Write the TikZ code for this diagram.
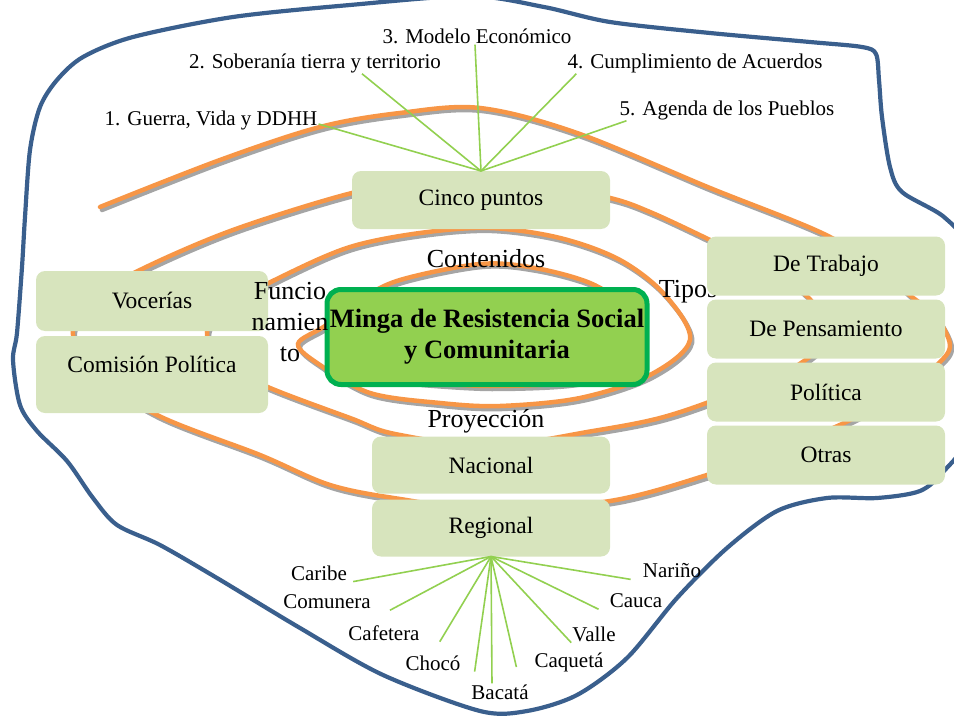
\documentclass[tikz,border=0pt]{standalone}
\usepackage{fontspec}
\setmainfont{Liberation Serif}
\usetikzlibrary{positioning}
\definecolor{MingaVerde}{HTML}{92D050}
\definecolor{MingaBorde}{HTML}{00B050}
\definecolor{MingaCaja}{HTML}{D7E4BD}
\definecolor{MingaNaranja}{HTML}{F79646}
\definecolor{MingaSombra}{HTML}{A5A5A5}
\definecolor{MingaAzul}{HTML}{3A5F8D}

\begin{document}
\begin{tikzpicture}[x=1pt,y=-1pt,
  caja/.style={fill=MingaCaja,rounded corners=9pt,minimum width=238pt,minimum height=59pt,align=center,inner sep=2pt,outer sep=0pt,font=\fontsize{23.5}{28}\selectfont},
  centro/.style={fill=MingaVerde,draw=MingaBorde,line width=5pt,rounded corners=14pt,minimum width=320pt,minimum height=95pt,align=center,inner sep=2pt,font=\bfseries\fontsize{26.5}{31}\selectfont},
  rama/.style={draw=MingaVerde,line width=1.6pt},
  espiral/.style={line width=4.5pt,line cap=round},
  etiq/.style={inner sep=1pt,font=\fontsize{21}{25}\selectfont},
  rotulo/.style={inner sep=1pt,align=center,font=\fontsize{26}{31}\selectfont}]
  \useasboundingbox (0,0) rectangle (954,717);
  \clip (0,0) rectangle (954,717);
  % contorno azul
  \draw[MingaAzul,line width=4.2pt] plot[smooth cycle,tension=0.5] coordinates {
    (470,-4) (544,7) (610,22) (710,33) (810,42) (862,47) (876,54) (879,80)
    (882,117) (890,167) (902,192) (944,217) (968,250) (978,340) (968,435)
    (944,471) (920,491) (877,498) (827,498) (777,511) (727,548) (677,598)
    (627,658) (577,695) (527,711) (480,711) (383,675) (300,628) (217,578)
    (160,545) (117,525) (93,498) (67,461) (37,431) (20,405) (13,360) (17,333)
    (22,267) (25,217) (30,150) (40,107) (57,80) (83,57) (133,37) (233,17) (350,5)};
  % espiral con sombra
  \foreach \col/\sx/\sy in {MingaSombra/2/3,MingaNaranja/0/0}
    \draw[espiral,\col,shift={(\sx,\sy)}] plot[smooth,tension=0.55] coordinates {
      (420,382) (490,386) (575,382) (620,366) (636,340) (622,305) (590,283)
      (535,268) (480,264) (400,280) (360,300) (325,326) (298,344) (320,365)
      (370,393) (440,403) (500,406) (580,398) (650,375) (690,340) (665,295)
      (620,260) (560,238) (490,228) (420,233) (350,247) (285,275) (230,305)
      (207,332) (225,365) (270,388) (350,418) (395,434) (490,446) (593,431)
      (660,418) (720,398) (790,370) (830,335) (815,305) (780,275) (710,240)
      (650,212) (610,198) (545,187) (480,184) (410,186) (352,193) (233,230)
      (140,270) (95,298) (73,330) (90,370) (157,415) (260,455) (330,485)
      (400,499) (490,510) (610,501) (707,475) (790,445) (844,423) (905,390)
      (937,365) (950,345) (935,315) (912,297) (880,270) (824,234) (710,188)
      (577,133) (480,108) (400,113) (320,127) (220,160) (100,207)};
  % rotulos de la espiral
  \node[rotulo] (cont) at (486,259) {Contenidos};
  \node[rotulo] (proy) at (486,421) {Proyección};
  \node[rotulo] (tipos) at (688,292) {Tipos};
  % cajas
  \node[caja,minimum width=258pt,minimum height=58pt] (cinco) at (481,200) {Cinco puntos};
  \node[caja,minimum width=232pt,minimum height=60pt] (voc) at (152,301) {Vocerías};
  \node[caja,minimum width=232pt,minimum height=77pt,text height=16pt,text depth=20pt,below=5pt of voc] (comi) {Comisión Política};
  \node[caja] (trab) at (826,266) {De Trabajo};
  \node[caja,below=4pt of trab] (pens) {De Pensamiento};
  \node[caja,below=4pt of pens] (poli) {Política};
  \node[caja,below=4pt of poli] (otras) {Otras};
  \node[caja,minimum height=57pt] (nac) at (491,465) {Nacional};
  \node[caja,minimum height=57pt,below=6pt of nac] (reg) {Regional};
  \node[centro] (minga) at (487,337) {Minga de Resistencia Social\\y Comunitaria};
  \node[rotulo] (func) at (290,322) {Funcio\\namien\\to};
  % cinco puntos
  \node[etiq] (p1) at (211,120) {1. Guerra, Vida y DDHH};
  \node[etiq] (p2) at (315,63) {2. Soberanía tierra y territorio};
  \node[etiq] (p3) at (477,36) {3. Modelo Económico};
  \node[etiq] (p4) at (695,63) {4. Cumplimiento de Acuerdos};
  \node[etiq] (p5) at (727,110) {5. Agenda de los Pueblos};
  \foreach \n/\a/\dx/\dy in {p1/east/0/-4,p2/south/47/0,p3/south/-2/0,p4/south west/10/0,p5/south west/8/0}
    \draw[rama] (cinco.north) -- ([xshift=\dx pt,yshift=\dy pt]\n.\a);
  % regiones
  \node[etiq] (car) at (319,573) {Caribe};
  \node[etiq] (comu) at (327,602) {Comunera};
  \node[etiq] (cafe) at (384,633) {Cafetera};
  \node[etiq] (choc) at (433,663) {Chocó};
  \node[etiq] (baca) at (500,692) {Bacatá};
  \node[etiq] (caqu) at (569,662) {Caquetá};
  \node[etiq] (vall) at (594,634) {Valle};
  \node[etiq] (cauc) at (636,601) {Cauca};
  \node[etiq] (nari) at (672,571) {Nariño};
  \foreach \n/\a/\dx in {car/south east/5,comu/south east/18,cafe/south east/19,choc/south east/13,baca/north/-8,caqu/base west/-17,vall/south west/0,cauc/south west/-10,nari/south west/-11}
    \draw[rama] (reg.south) -- ([xshift=\dx pt]\n.\a);
\end{tikzpicture}
\end{document}
